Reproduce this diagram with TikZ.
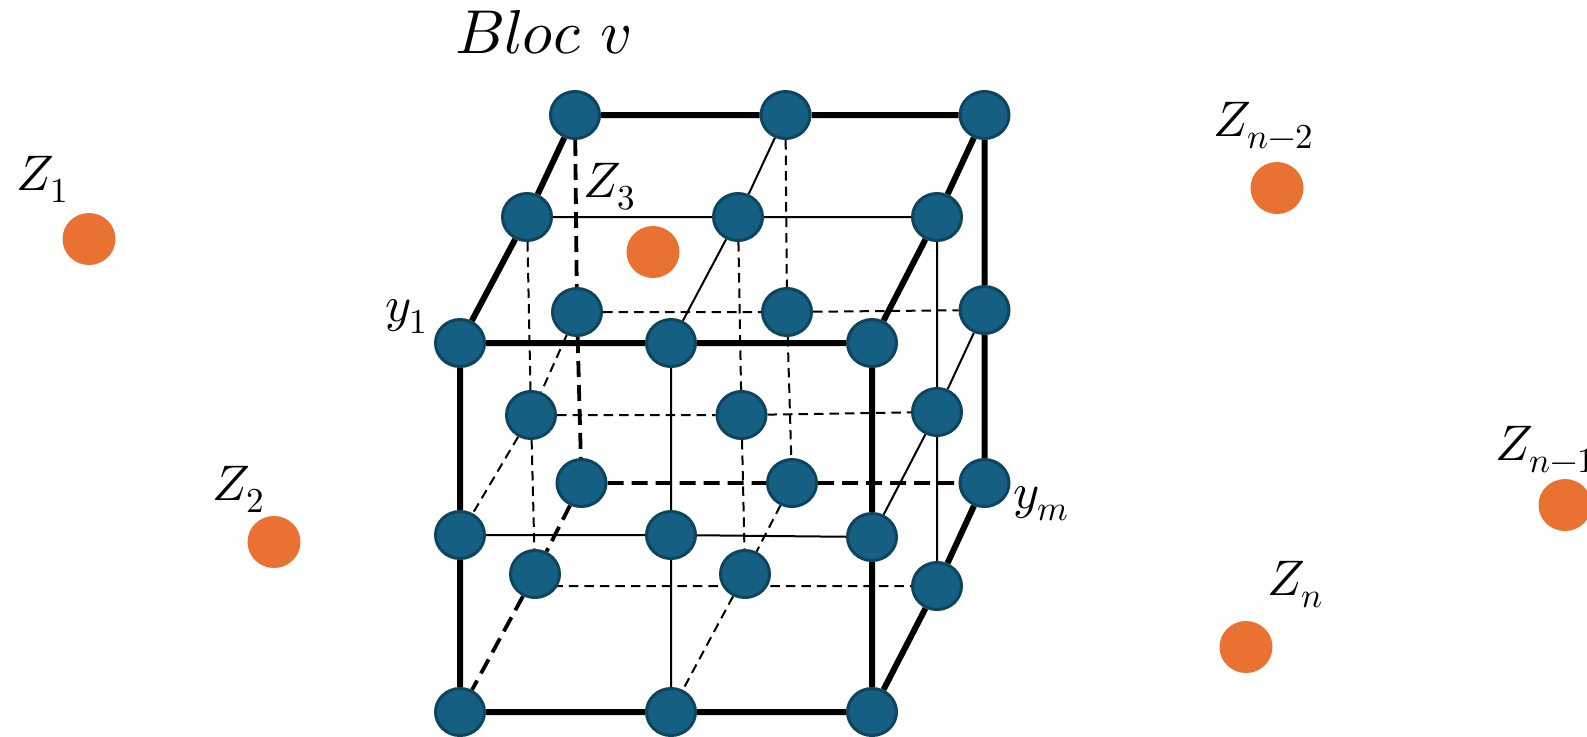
\documentclass[tikz,border=0pt]{standalone}
\usepackage{unicode-math}
\setmathfont{Latin Modern Math}
\usetikzlibrary{shapes.geometric,backgrounds}
\definecolor{nodeblue}{HTML}{156082}
\definecolor{nodeedge}{HTML}{0E445E}
\definecolor{zorange}{HTML}{E97132}
\tikzset{
 lat/.style={ellipse,fill=nodeblue,draw=nodeedge,line width=1.5pt,minimum width=24.5pt,minimum height=23.5pt,inner sep=0pt},
 zpt/.style={ellipse,fill=zorange,minimum width=26.5pt,minimum height=26pt,inner sep=0pt},
 lbl/.style={anchor=base west,inner sep=0pt,font=\fontsize{25}{25}\selectfont},
 edgethick/.style={line width=3pt},
 edgethin/.style={line width=1pt},
 hidthick/.style={line width=1.9pt,dash pattern=on 8pt off 4pt},
 hidthin/.style={line width=1pt,dash pattern=on 4.75pt off 3pt},
}
\begin{document}
\begin{tikzpicture}[x=0.5pt,y=-0.5pt]
\clip (0,0) rectangle (1587,736);
% front layer
\node[lat] (F11) at (460,343) {};
\node[lat] (F12) at (671,343) {};
\node[lat] (F13) at (872,343) {};
\node[lat] (F21) at (460,535) {};
\node[lat] (F22) at (671,535) {};
\node[lat] (F23) at (872,537) {};
\node[lat] (F31) at (460,712) {};
\node[lat] (F32) at (671,712) {};
\node[lat] (F33) at (872,712) {};
% middle layer
\node[lat] (M11) at (527,217) {};
\node[lat] (M12) at (738,217) {};
\node[lat] (M13) at (937,217) {};
\node[lat] (M21) at (531,415) {};
\node[lat] (M22) at (741.5,415) {};
\node[lat] (M23) at (937,412) {};
\node[lat] (M31) at (535,574) {};
\node[lat] (M32) at (745,574) {};
\node[lat] (M33) at (937,586) {};
% back layer
\node[lat] (B11) at (575,115) {};
\node[lat] (B12) at (785.5,115) {};
\node[lat] (B13) at (984.5,115) {};
\node[lat] (B21) at (577,312) {};
\node[lat] (B22) at (787,312) {};
\node[lat] (B23) at (984.5,310) {};
\node[lat] (B31) at (581.5,483) {};
\node[lat] (B32) at (792,483) {};
\node[lat] (B33) at (984.5,483) {};
% orange points
\node[zpt] (Z1c) at (89,239) {};
\node[zpt] (Z2c) at (274,542) {};
\node[zpt] (Z3c) at (653,252) {};
\node[zpt] (Zn2c) at (1277,188) {};
\node[zpt] (Zn1c) at (1565,505) {};
\node[zpt] (Znc) at (1246,647) {};
% labels
\node[lbl,font=\fontsize{31}{31}\selectfont] (bloc) at (455,53) {$Bloc\ v$};
\node[lbl] (Z1) at (16,190) {$Z_1$};
\node[lbl] (Z2) at (212,500) {$Z_2$};
\node[lbl] (Z3) at (583,197) {$Z_3$};
\node[lbl] (Zn2) at (1213,136) {$Z_{n-2}$};
\node[lbl] (Zn1) at (1495,460) {$Z_{n-1}$};
\node[lbl] (Zn) at (1267,595) {$Z_n$};
\node[lbl] (y1) at (385,321) {$y_1$};
\node[lbl] (ym) at (1013,508) {$y_m$};
\begin{pgfonlayer}{background}
% thick solid frame
\draw[edgethick] (F11) -- (F12) (F12) -- (F13) (F31) -- (F32) (F32) -- (F33)
  (F11) -- (F21) (F21) -- (F31) (F13) -- (F23) (F23) -- (F33)
  (B11) -- (B12) (B12) -- (B13) (B13) -- (B23) (B23) -- (B33)
  (F11) -- (M11) (M11) -- (B11) (F13) -- (M13) (M13) -- (B13)
  (F33) -- (M33) (M33) -- (B33);
% thin solid
\draw[edgethin] (F21) -- (F22) (F22) -- (F23) (F12) -- (F22) (F22) -- (F32)
  (M11) -- (M12) (M12) -- (M13) (B12) -- (M12) (M12) -- (F12)
  (M13) -- (M23) (M23) -- (M33) (B23) -- (M23) (M23) -- (F23);
% thick hidden
\draw[hidthick] (B11) -- (B21) (B21) -- (B31) (B31) -- (B32) (B32) -- (B33)
  (B31) -- (M31) (M31) -- (F31);
% thin hidden
\draw[hidthin] (B21) -- (B22) (B22) -- (B23) (B12) -- (B22) (B22) -- (B32)
  (M11) -- (M21) (M21) -- (M31) (M12) -- (M22) (M22) -- (M32)
  (M21) -- (M22) (M22) -- (M23)
  (M31.south east |- M33.center) -- (M33)
  (B21) -- (M21) (M21) -- (F21) (B32) -- (M32) (M32) -- (F32);
\end{pgfonlayer}
\end{tikzpicture}
\end{document}
